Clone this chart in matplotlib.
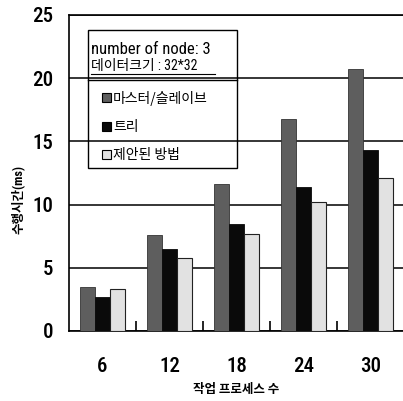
import matplotlib
matplotlib.use("Agg")
import matplotlib.pyplot as plt
from matplotlib.patches import Rectangle
from matplotlib.lines import Line2D
import numpy as np

categories = ["6", "12", "18", "24", "30"]
master_slave = [3.5, 7.6, 11.65, 16.8, 20.7]
tree = [2.7, 6.5, 8.5, 11.4, 14.3]
proposed = [3.3, 5.8, 7.7, 10.2, 12.1]
series_labels = ["마스터/슬레이브", "트리", "제안된 방법"]
y_ticks = [0, 5, 10, 15, 20, 25]

plt.rcParams['font.family'] = ['Roboto Condensed', 'Archivo Narrow', 'Noto Sans CJK KR', 'DejaVu Sans']
cjk = ['Noto Sans CJK KR', 'DejaVu Sans']
mixed = ['Roboto Condensed', 'Noto Sans CJK KR', 'DejaVu Sans']

fig = plt.figure(figsize=(4.03, 4.01), dpi=100)
ax = fig.add_axes([69/403, 70/401, 335/403, 316/401])

x = np.arange(len(categories))
w = 0.224
ax.bar(x - w, master_slave, w, color='#5e5e5e', edgecolor='#333333', linewidth=0.6, zorder=3)
ax.bar(x, tree, w, color='#0a0a0a', edgecolor='#0a0a0a', linewidth=0.6, zorder=3)
ax.bar(x + w, proposed, w, color='#e2e2e2', edgecolor='#222222', linewidth=0.8, zorder=3)

ax.set_xlim(-0.5, 4.5)
ax.set_ylim(0, 25)
ax.set_yticks(y_ticks)
ax.set_yticklabels([str(v) for v in y_ticks], fontsize=15, fontweight='medium')
ax.set_xticks(x)
ax.set_xticklabels(categories, fontsize=15, fontweight='medium')
ax.set_xticks(np.arange(0.5, 4.0, 1.0), minor=True)
ax.tick_params(axis='x', which='major', length=0, pad=19)
ax.tick_params(axis='x', which='minor', length=7, direction='in', width=1.2)
ax.tick_params(axis='y', length=0, pad=11)
ax.yaxis.grid(True, color='black', linewidth=1.1, zorder=1)
for s in ax.spines.values():
    s.set_linewidth(1.2)

ax.set_xlabel("작업 프로세스 수", fontsize=9, family=cjk, fontweight='bold', labelpad=5)
fig.text(18/403, 1 - 200/401, "수행시간(ms)", rotation=90, fontsize=9, family=mixed,
         fontweight='bold', ha='center', va='center')

def fx(px):
    return px / 403

def fy(py):
    return 1 - py / 401

# legend box (transparent, grid visible through)
fig.patches.append(Rectangle((fx(88), fy(168)), fx(237) - fx(88), fy(30) - fy(168),
                             transform=fig.transFigure, fill=False, edgecolor='black',
                             linewidth=1.0, zorder=5))
fig.lines.append(Line2D([fx(88), fx(237)], [fy(80), fy(80)], transform=fig.transFigure,
                        color='black', linewidth=1.0))
fig.text(fx(91), fy(49), "number of node: 3", fontsize=12, va='center', ha='left',
         family=mixed)
fig.text(fx(91), fy(66), "데이터크기 : 32*32", fontsize=10, va='center', ha='left', family=mixed)
fig.lines.append(Line2D([fx(91), fx(215)], [fy(74), fy(74)], transform=fig.transFigure,
                        color='black', linewidth=0.8))

legend_colors = ['#5e5e5e', '#0a0a0a', '#e2e2e2']
legend_y = [98, 127, 155]
for lab, col, yy in zip(series_labels, legend_colors, legend_y):
    fig.patches.append(Rectangle((fx(102), fy(yy + 4)), fx(9), 9 / 401,
                                 transform=fig.transFigure, facecolor=col,
                                 edgecolor='black', linewidth=0.8))
    fig.text(fx(113), fy(yy), lab, fontsize=10, va='center', ha='left', family=cjk,
             fontweight='medium')

fig.savefig("out.png", dpi=100)
